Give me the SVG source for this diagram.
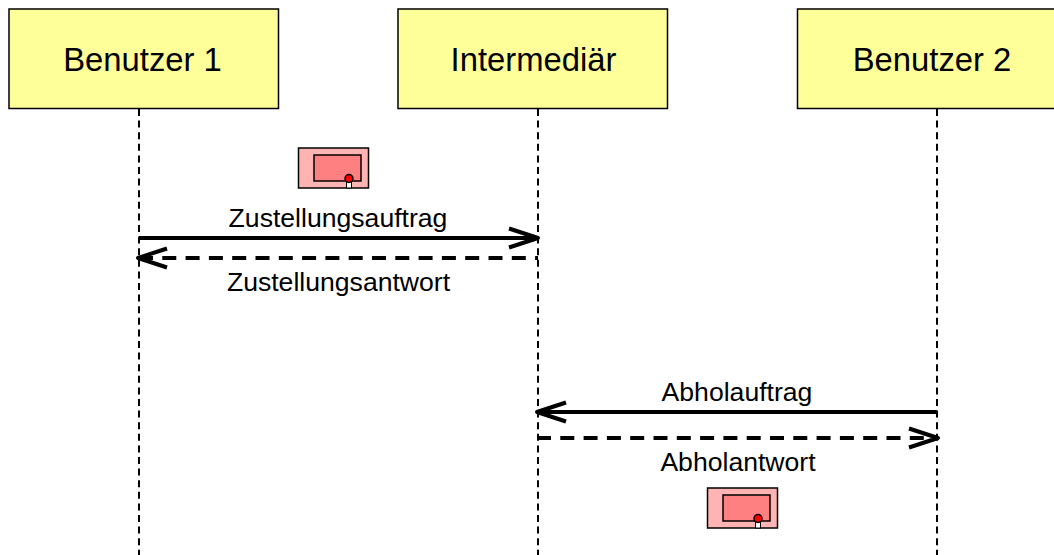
<svg xmlns="http://www.w3.org/2000/svg" width="1054" height="555" viewBox="0 0 1054 555">
<style>
text{font-family:"Liberation Sans",Arial,sans-serif;fill:#000;text-anchor:middle}
.t{font-size:32.8px}
.l{font-size:26.6px}
.box{fill:#ffff99;stroke:#000;stroke-width:1.5}
.life{stroke:#000;stroke-width:2;stroke-dasharray:7 4.600;fill:none}
.solid,.dash{stroke:#000;stroke-width:4;fill:none}
.dash{stroke-dasharray:14 9.300}
.head{stroke:#000;stroke-width:4;fill:none;stroke-linejoin:round}
.o{fill:#ffb3b3;stroke:#000;stroke-width:1.5}
.i{fill:#ff8080;stroke:#000;stroke-width:1.5}
.s{fill:#fff;stroke:#000;stroke-width:1}
.d{fill:#ff0000;stroke:#000;stroke-width:1.5}
</style>
<defs>
<g id="msg">
<rect class="o" x="0" y="0" width="70" height="40"/>
<rect class="i" x="15.500" y="7" width="47" height="26"/>
<rect class="s" x="48" y="33" width="5" height="7"/>
<circle class="d" cx="50.500" cy="30.500" r="4"/>
</g>
</defs>
<g id="connectors">
<path class="life" d="M139 109V555"/>
<path class="life" d="M538 109V555"/>
<path class="life" d="M937 109V555"/>
<path class="solid" d="M139 238H537"/>
<path class="head" d="M509 228.500L538 238L509 247.500"/>
<path class="dash" d="M139 258H538"/>
<path class="head" d="M167 248.500L138 258L167 267.500"/>
<path class="solid" d="M937 412H538"/>
<path class="head" d="M566 402.500L537 412L566 421.500"/>
<path class="dash" d="M537 438H937"/>
<path class="head" d="M909 428.500L938 438L909 447.500"/>
</g>
<g id="benutzer1"><rect class="box" x="9" y="9" width="269.500" height="99.500"/><text class="t" x="142.500" y="70.500">Benutzer 1</text></g>
<g id="intermediaer"><rect class="box" x="398" y="9" width="269.500" height="99.500"/><text class="t" x="533.500" y="70.500">Intermediär</text></g>
<g id="benutzer2"><rect class="box" x="797.500" y="9" width="269.500" height="99.500"/><text class="t" x="932" y="70.500">Benutzer 2</text></g>
<g id="nachricht1"><use href="#msg" x="298.500" y="148"/></g>
<g id="nachricht2"><use href="#msg" x="707.500" y="488"/></g>
<g id="labels">
<text class="l" x="338" y="226.500">Zustellungsauftrag</text>
<text class="l" x="338.500" y="290.500">Zustellungsantwort</text>
<text class="l" x="737" y="400.500">Abholauftrag</text>
<text class="l" x="738" y="470.500">Abholantwort</text>
</g>
</svg>
